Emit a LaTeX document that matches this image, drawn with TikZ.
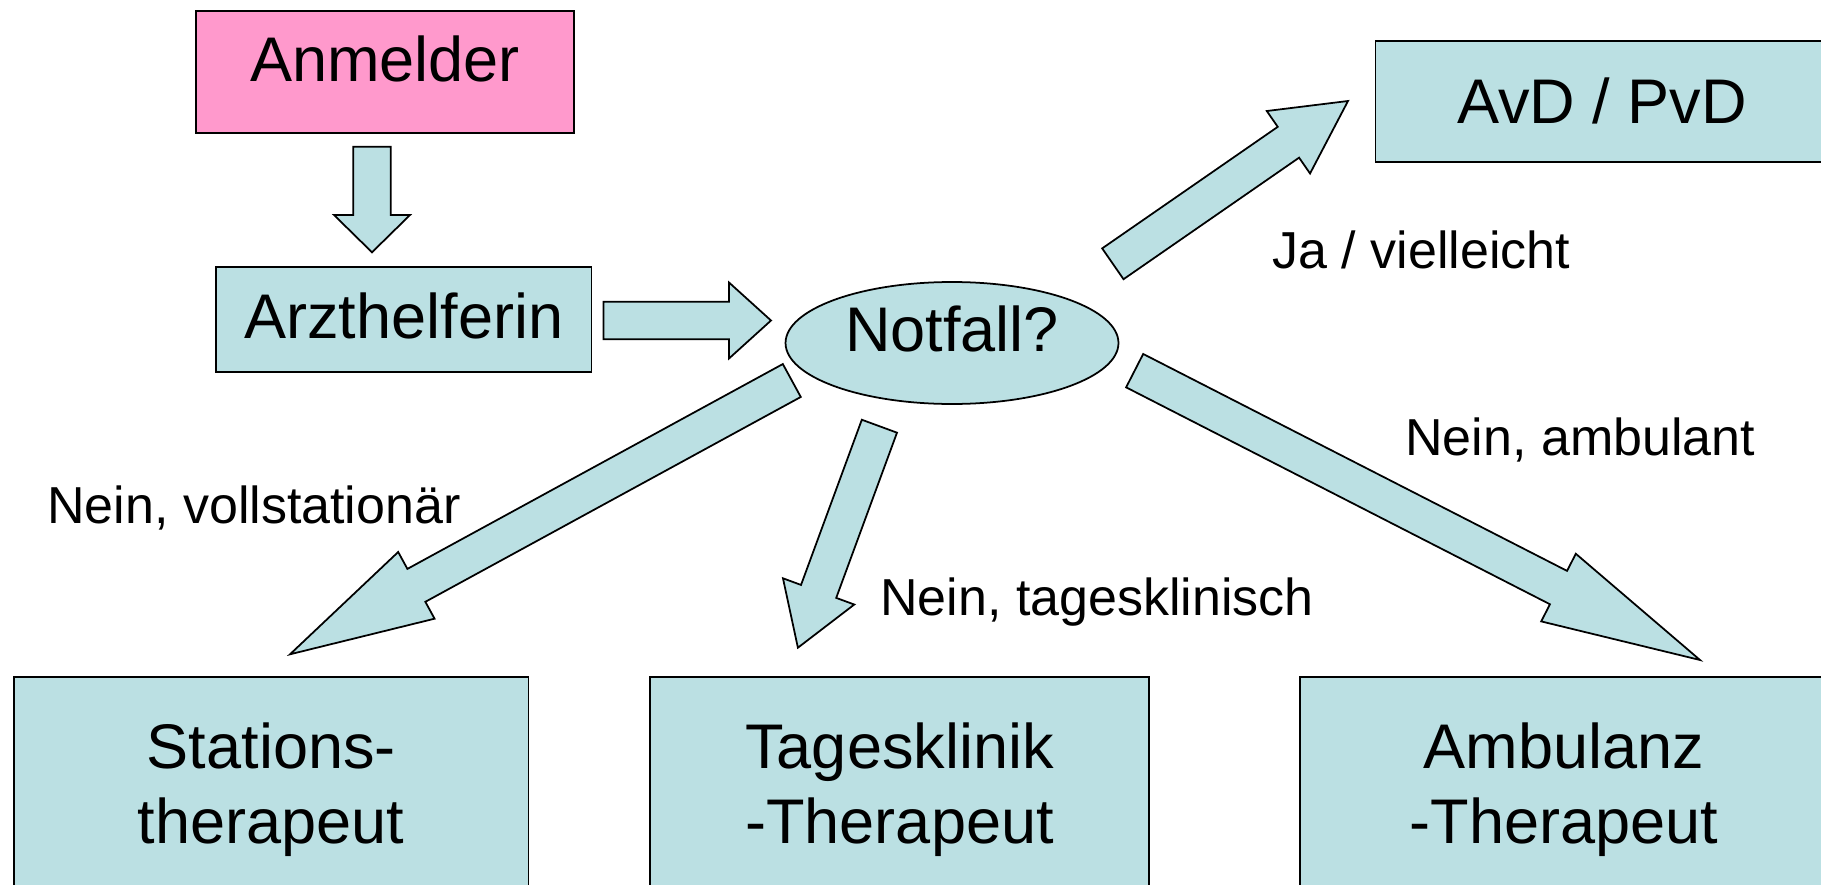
\documentclass[tikz,border=0pt]{standalone}
\usepackage{fontspec}
\setmainfont{Liberation Sans}
\usetikzlibrary{shapes.geometric,calc}
\definecolor{boxblue}{RGB}{187,224,227}
\definecolor{boxpink}{RGB}{255,153,204}
\tikzset{
  box/.style={draw, line width=1pt, fill=boxblue, inner sep=0pt, align=center,
    font=\fontsize{35.9}{42.7}\selectfont, text height=0.9cm},
  lowbox/.style={box, anchor=north, minimum height=4.52cm, text height=2.46cm, text depth=0.3cm},
  lbl/.style={inner sep=0pt, anchor=base west, font=\fontsize{29.6}{35}\selectfont},
  blockarrow/.style={draw, line width=1pt, fill=boxblue, line join=miter}
}
\newcommand{\blockarrow}[3]{%
  \coordinate (hb) at ($(#2)!#3!(#1)$);
  \draw[blockarrow] ($(#1)!0.375cm!90:(#2)$) -- ($(hb)!0.375cm!90:(#2)$)
    -- ($(hb)!0.76cm!90:(#2)$) -- (#2) -- ($(hb)!0.76cm!-90:(#2)$)
    -- ($(hb)!0.375cm!-90:(#2)$) -- ($(#1)!0.375cm!-90:(#2)$) -- cycle;}
\begin{document}
\begin{tikzpicture}[x=0.02cm,y=-0.02cm]
    \useasboundingbox (0,0) rectangle (1821,885);
    \clip (0,0) rectangle (1821,885);
    \node[box, fill=boxpink, minimum width=7.57cm, minimum height=2.44cm, text depth=0.5cm] (anm) at (385,71.7) {Anmelder};
    \node[box, minimum width=7.51cm, minimum height=2.11cm, text depth=0.15cm] (arzt) at (403.85,319.5) {Arzthelferin};
    \node[box, ellipse, minimum width=6.66cm, minimum height=2.44cm, text depth=0.55cm] (notfall) at (952,343) {Notfall?};
    \node[box, minimum width=9.06cm, minimum height=2.43cm, text depth=0cm] (avd) at (1602,101.5) {AvD / PvD};
    \node[lowbox, minimum width=10.29cm] (stat) at (271.25,676) {Stations-\\therapeut};
    \node[lowbox, minimum width=9.97cm] (tages) at (899.55,676) {Tagesklinik\\-Therapeut};
    \node[lowbox, minimum width=10.57cm] (amb) at (1564,676) {Ambulanz\\-Therapeut};
    \coordinate (p1) at (372,146.7);   \coordinate (q1) at (372,252.3);
    \coordinate (p2) at (603.6,320.5); \coordinate (q2) at (771,320.5);
    \coordinate (p3) at (1112.85,263.8); \coordinate (q3) at (1348,101);
    \coordinate (p4) at (879.4,426.2); \coordinate (q4) at (797.9,647.7);
    \coordinate (p5) at (791.8,380.5); \coordinate (q5) at (290,654.3);
    \coordinate (p6) at (1134.65,370.65); \coordinate (q6) at (1700,660);
    \blockarrow{p1}{q1}{0.746cm}
    \blockarrow{p2}{q2}{0.84cm}
    \blockarrow{p3}{q3}{1.45cm}
    \blockarrow{p4}{q4}{1.2cm}
    \blockarrow{p5}{q5}{2.88cm}
    \blockarrow{p6}{q6}{3.18cm}
    \node[lbl] (lvoll) at (47,523.3) {Nein, vollstationär};
    \node[lbl] (ltag) at (880,615) {Nein, tagesklinisch};
    \node[lbl] (lamb) at (1405,455) {Nein, ambulant};
    \node[lbl] (lja) at (1272,268.3) {Ja / vielleicht};
\end{tikzpicture}
\end{document}
